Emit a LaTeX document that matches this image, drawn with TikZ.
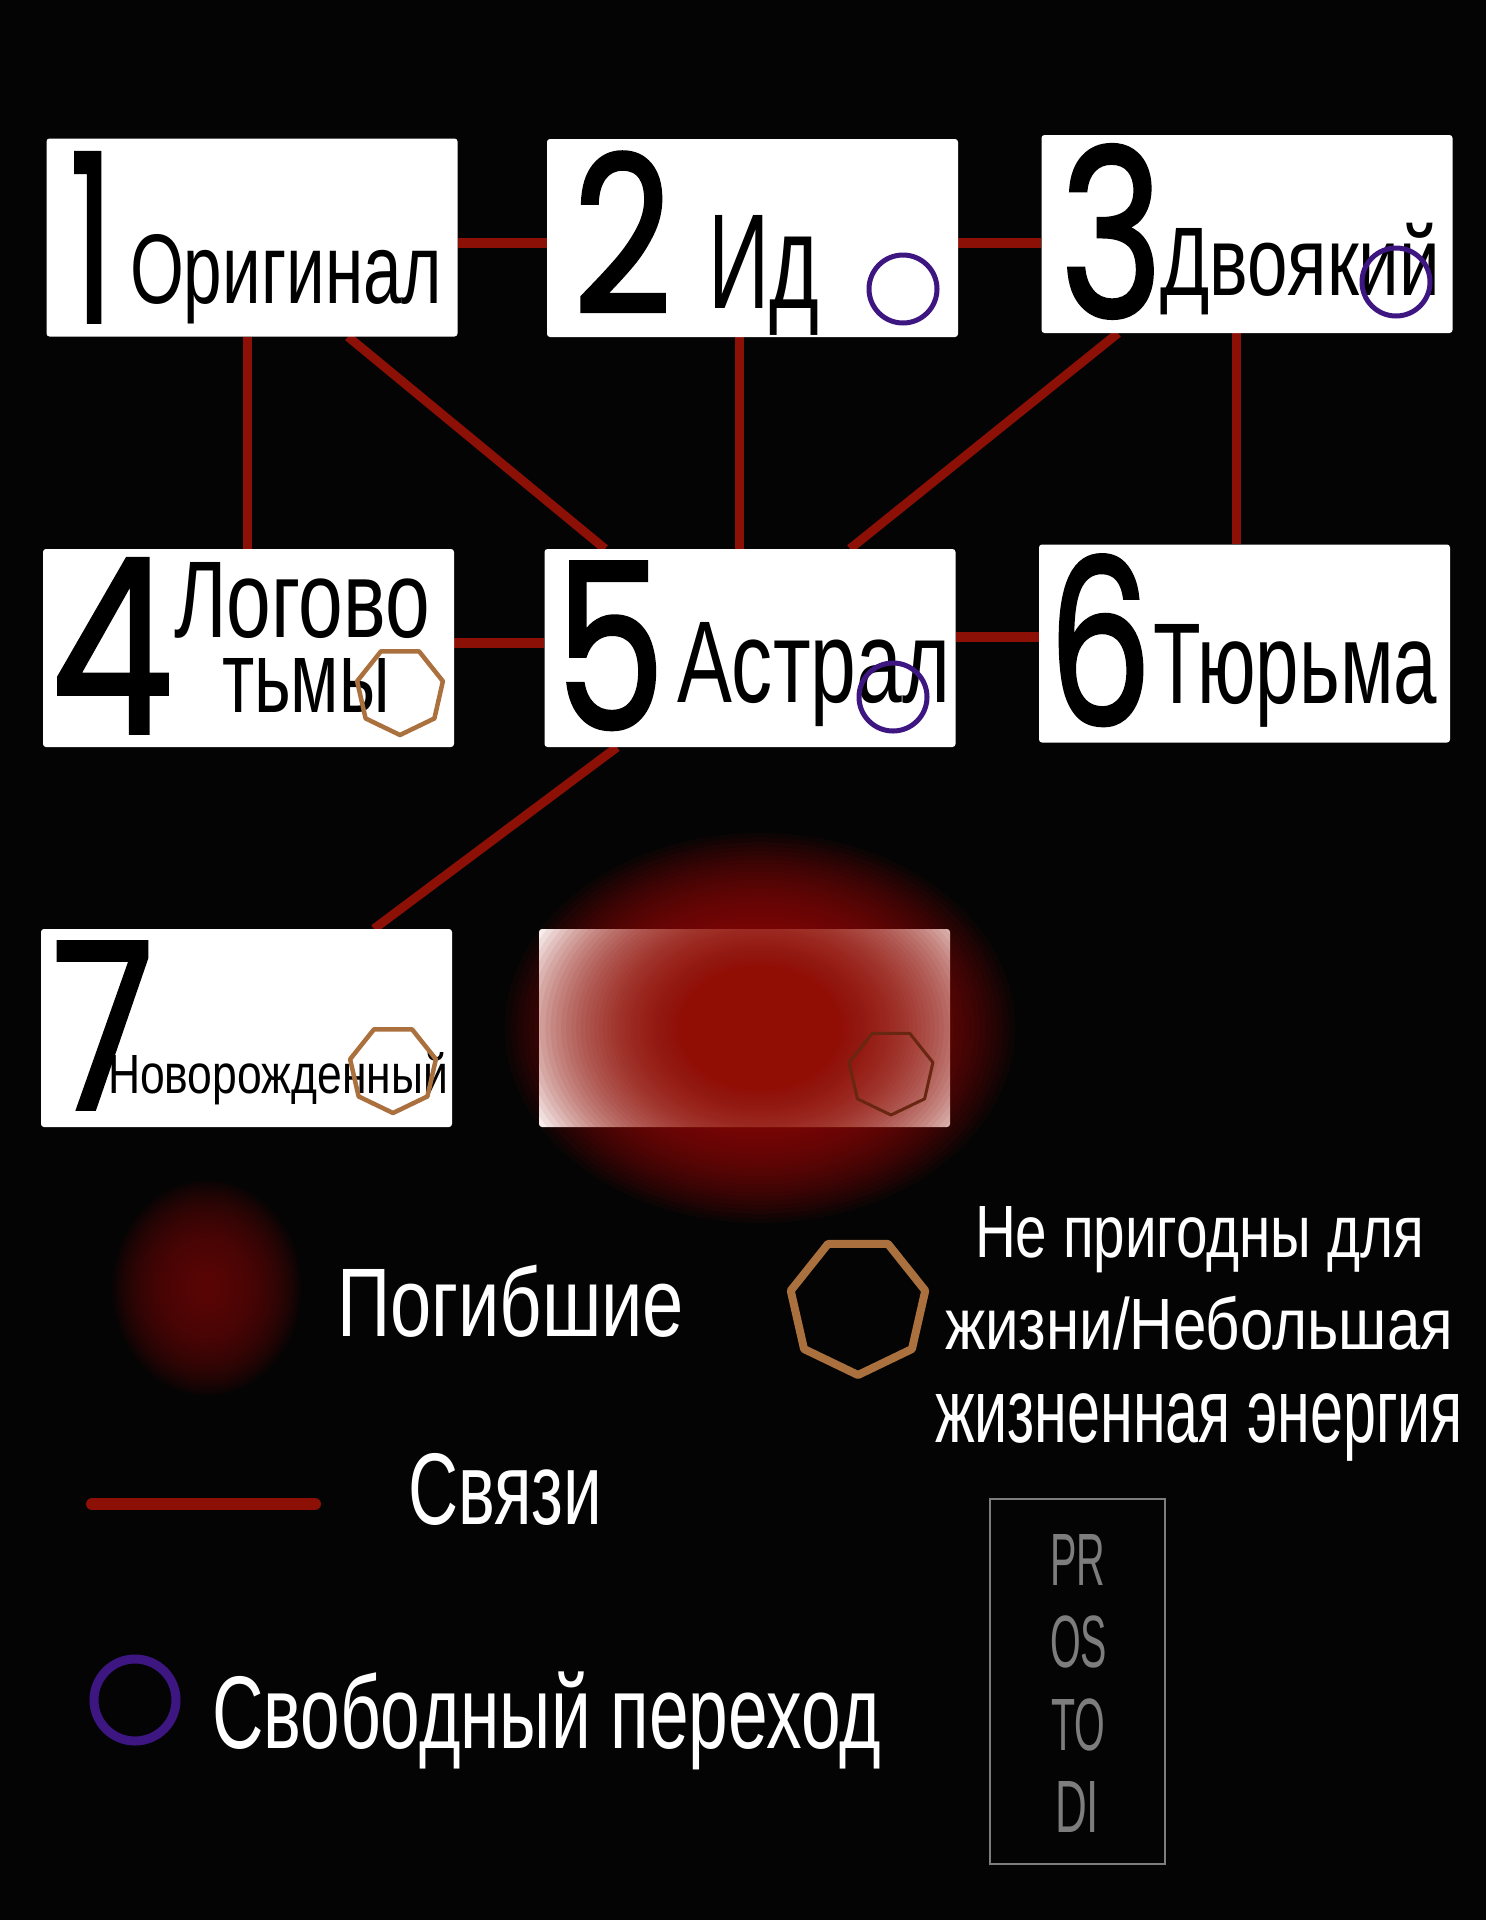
\documentclass[tikz,border=0pt]{standalone}
\usepackage{fontspec}
\setmainfont{Liberation Sans}
\newfontfamily\digitfont[FakeBold=1.6]{Poppins}
\usepackage{graphicx}

\definecolor{bgblack}{RGB}{4,4,4}
\definecolor{linkred}{RGB}{140,16,6}
\definecolor{freeviolet}{RGB}{62,22,130}
\definecolor{weakbrown}{RGB}{170,112,62}
\definecolor{deadbrown}{RGB}{105,38,16}
\definecolor{deadred}{RGB}{145,14,5}
\definecolor{darkblob}{RGB}{110,8,5}
\definecolor{wmgrey}{RGB}{125,125,125}

\pgfdeclarelayer{back}
\pgfdeclarelayer{links}
\pgfsetlayers{back,links,main}

% text fitted to a given width and cap height (in pt), baseline kept
\newcommand\fitlbl[3]{\resizebox{#1pt}{#2pt}{\rule{0pt}{\fontcharht\font`H}\smash{#3}}}
% lower-case only text fitted to a given width and x-height
\newcommand\fitlow[3]{\resizebox{#1pt}{#2pt}{\rule{0pt}{\fontcharht\font`x}\smash{#3}}}
\newcommand\fitdig[3]{\resizebox{#1pt}{#2pt}{\digitfont #3}}
\newcommand\heptagon[3]{\draw[#1, shift={(#2)}] (90:#3) -- (141.43:#3) -- (192.86:#3) -- (244.29:#3) -- (295.71:#3) -- (347.14:#3) -- (38.57:#3) -- cycle;}

\begin{document}
\begin{tikzpicture}[x=1pt,y=-1pt,
  card/.style={fill=white, rounded corners=3pt, inner sep=0pt, minimum width=411pt, minimum height=198pt},
  link/.style={draw=linkred, line width=9pt},
  hlink/.style={draw=linkred, line width=10pt},
  lbl/.style={anchor=base west, inner sep=0pt, outer sep=0pt},
  free/.style={draw=freeviolet, line width=5pt},
  weak/.style={draw=weakbrown, line width=4.5pt, line join=round},
]
\begin{pgfonlayer}{back}
\fill[bgblack] (0,0) rectangle (1486,1920);
\end{pgfonlayer}
\useasboundingbox (0,0) rectangle (1486,1920);

% cards
\node[card] (b1) at (252,237.5) {};
\node[card] (b2) at (752.5,238) {};
\node[card] (b3) at (1247,234) {};
\node[card] (b4) at (248.5,648) {};
\node[card] (b5) at (750,648) {};
\node[card] (b6) at (1244.5,643.5) {};
\node[card] (b7) at (246.5,1028) {};
\node[card] (b8) at (744.5,1028) {};

% connectors
\begin{pgfonlayer}{links}
\draw[hlink] (b1.east |- 0,243) -- (b2.west |- 0,243);
\draw[hlink] (b2.east |- 0,243) -- (b3.west |- 0,243);
\draw[hlink] (b4.east |- 0,643) -- (b5.west |- 0,643);
\draw[hlink] (b5.east |- 0,637) -- (b6.west |- 0,637);
\draw[link] (b1.south -| 247,0) -- (b4.north -| 247,0);
\draw[link] (b2.south -| 739,0) -- (b5.north -| 739,0);
\draw[link] (b3.south -| 1236,0) -- (b6.north -| 1236,0);
\draw[link] (b1.south -| 348,0) -- (b5.north -| 605,0);
\draw[link] (b3.south -| 1118,0) -- (b5.north -| 850,0);
\draw[link] (b5.south -| 617,0) -- (b7.north -| 374,0);
\end{pgfonlayer}

% digits
\node[lbl] (d1) at (70,322) {\fitdig{43}{169}{1}};
\node[lbl] (d2) at (573,313) {\fitdig{99}{161}{2}};
\node[lbl] (d3) at (1060,317) {\fitdig{103}{172}{3}};
\node[lbl] (d4) at (51,733) {\fitdig{122}{174}{4}};
\node[lbl] (d5) at (555,729) {\fitdig{110}{167}{5}};
\node[lbl] (d6) at (1048,725) {\fitdig{104}{170}{6}};
\node[lbl] (d7) at (52,1109) {\fitdig{102}{167}{7}};

% names
\node[lbl] (n1) at (130,303) {\fitlbl{312}{68}{Оригинал}};
\node[lbl] (n2) at (708,308) {\fitlbl{111}{93}{Ид}};
\node[lbl] (n3) at (1160,295) {\fitlbl{280}{67}{Двоякий}};
\node[lbl] (n4a) at (174,637) {\fitlbl{256}{75}{Логово}};
\node[lbl] (n4b) at (222,712) {\fitlow{168}{54}{тьмы}};
\node[lbl] (n5) at (677,702) {\fitlbl{273}{80}{Астрал}};
\node[lbl] (n6) at (1153,703) {\fitlbl{284}{79}{Тюрьма}};
\node[lbl] (n7) at (108,1093) {\fitlbl{340}{38}{Новорожденный}};

% markers in cards
\draw[free] (903,289) circle[radius=34];
\draw[free] (1396,282) circle[radius=34];
\draw[free] (893,697) circle[radius=34];
\heptagon{weak}{400,691}{44}
\heptagon{weak}{393,1069}{44}

% dead world blob (stacked translucent ellipses)
\foreach \k in {0,...,59}{
  \fill[deadred, opacity=0.07] (760,1028) ellipse [x radius={255*(0.28+0.72*(1-\k/60)^2)}, y radius={195*(0.28+0.72*(1-\k/60)^2)}];
}
\heptagon{draw=deadbrown, line width=3pt, line join=round}{891,1072}{43}

% legend
\foreach \k in {0,...,39}{
  \fill[darkblob, opacity=0.05] (207,1288) ellipse [x radius={95*(1-\k*0.0235)}, y radius={108*(1-\k*0.0235)}];
}
\node[lbl, text=white] (lg1) at (337,1336) {\fitlbl{347}{67}{Погибшие}};

\heptagon{draw=weakbrown, line width=8pt, line join=round}{858,1306}{69}
\node[lbl, text=white] (lg2a) at (975,1257) {\fitlbl{449}{51}{Не пригодны для}};
\node[lbl, text=white] (lg2b) at (945,1349) {\fitlbl{508}{50}{жизни/Небольшая}};
\node[lbl, text=white] (lg2c) at (935,1442) {\fitlow{528}{48}{жизненная энергия}};

\coordinate (ls) at (92,1504);
\coordinate (le) at (315,1504);
\draw[draw=linkred, line width=12pt, line cap=round] (ls) -- (le);
\node[lbl, text=white] (lg3) at (408,1524) {\fitlbl{194}{70}{Связи}};

\draw[draw=freeviolet, line width=9pt] (135,1700) circle[radius=41];
\node[lbl, text=white] (lg4) at (212,1748) {\fitlbl{669}{71}{Свободный переход}};

% watermark
\node[draw=wmgrey, line width=2pt, minimum width=175pt, minimum height=365pt, inner sep=0pt] (wm) at (1077.5,1681.5) {};
\node[lbl, text=wmgrey] (wm1) at (1050,1585) {\fitlbl{55}{51}{PR}};
\node[lbl, text=wmgrey] (wm2) at (1050,1667) {\fitlbl{57}{51}{OS}};
\node[lbl, text=wmgrey] (wm3) at (1051,1750) {\fitlbl{54}{51}{TO}};
\node[lbl, text=wmgrey] (wm4) at (1055,1832) {\fitlbl{44}{51}{DI}};
\end{tikzpicture}
\end{document}
